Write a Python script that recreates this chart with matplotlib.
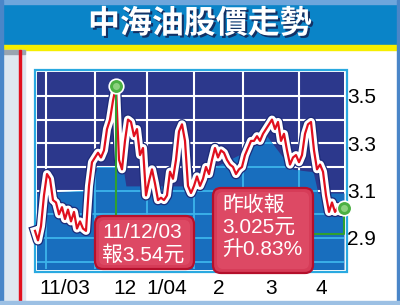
import matplotlib.pyplot as plt
import matplotlib.patheffects as pe
from matplotlib.patches import Rectangle, FancyBboxPatch
from matplotlib.transforms import Affine2D
import numpy as np

plt.rcParams['font.family'] = ['Liberation Sans', 'Noto Sans CJK TC']

# daily closing price, late Oct 2003 .. mid Apr 2004
price = [2.93, 2.89, 2.95, 3.08, 3.17, 3.15, 3.06, 3.05, 3.00, 3.03,
         2.98, 3.02, 2.97, 3.01, 2.94, 2.97, 2.94, 2.93, 3.12, 3.22,
         3.24, 3.26, 3.24, 3.27, 3.36, 3.40, 3.48, 3.54, 3.23, 3.19,
         3.31, 3.40, 3.39, 3.33, 3.36, 3.25, 3.28, 3.08, 3.14, 3.19,
         3.13, 3.06, 3.07, 3.06, 3.08, 3.18, 3.15, 3.23, 3.35, 3.38,
         3.31, 3.12, 3.09, 3.12, 3.16, 3.12, 3.15, 3.20, 3.17, 3.23,
         3.28, 3.24, 3.27, 3.26, 3.23, 3.21, 3.20, 3.17, 3.19, 3.20,
         3.25, 3.28, 3.31, 3.31, 3.33, 3.31, 3.34, 3.36, 3.38, 3.40,
         3.36, 3.39, 3.31, 3.34, 3.27, 3.21, 3.24, 3.25, 3.22, 3.25,
         3.34, 3.38, 3.39, 3.27, 3.19, 3.21, 3.18, 3.08, 3.01, 3.05,
         3.01, 3.03, 3.01, 3.025]

# lighter blue band under the price line
band_idx = [0, 18.3, 20.7, 29.3, 30.3, 55, 58.3, 71, 77.3, 82.7, 86, 92.7, 94.3, 103]
band_val = [3.09, 3.10, 3.20, 3.20, 3.12, 3.12, 3.19, 3.27, 3.33, 3.24, 3.19, 3.18, 3.09, 3.09]

month_edges = [3.7, 20, 37.3, 53, 69.3, 88]
month_pos = [10, 30, 44, 61.3, 78.7, 95.3]
month_labels = ['11/03', '12', '1/04', '2', '3', '4']
y_ticks = [2.9, 3.1, 3.3, 3.5]
grid_levels = [2.8, 2.9, 3.0, 3.1, 3.2, 3.3, 3.4, 3.5]

title = '中海油股價走勢'
peak_text = '11/12/03\n報3.54元'
last_text = '昨收報\n3.025元\n升0.83%'

W, H = 400, 305
fig = plt.figure(figsize=(W / 100, H / 100), dpi=100)
# image pixel coords (origin top-left)
img = Affine2D().scale(1 / 100, -1 / 100).translate(0, H / 100) + fig.dpi_scale_trans

# --- frame / decoration ---
bg = fig.add_axes([0, 0, 1, 1], zorder=0)
bg.set_xlim(0, W)
bg.set_ylim(H, 0)
bg.axis('off')
bg.add_patch(Rectangle((0, 0), W, H, color='white'))
bg.add_patch(Rectangle((0, 0), W, 45, color='#0a84c8'))
bg.add_patch(Rectangle((0, 0), W, 4, color='#6ea6dc'))
bg.add_patch(Rectangle((0, 45), W, 5, color='#f6ee00'))
bg.add_patch(Rectangle((3, 50), 22, 251, color='#dfe7f0'))
bg.add_patch(Rectangle((3, 50), 22, 4, color='#9aa4b0'))
bg.add_patch(Rectangle((19, 50), 2.2, 251, color='#e2101e'))
bg.add_patch(Rectangle((0, 0), 3, H, color='#4a86c8'))
bg.add_patch(Rectangle((W - 3, 0), 3, H, color='#4a86c8'))
bg.add_patch(Rectangle((0, H - 4), W, 4, color='#9cc0e4'))
bg.add_patch(Rectangle((34.5, 69.5), 312, 202, fill=False, ec='#2aa9e0', lw=1.6))
bg.text(200, 24, title, ha='center', va='center', color='white', fontsize=23,
        fontweight='bold', family=['Noto Sans CJK TC'],
        path_effects=[pe.withSimplePatchShadow(offset=(1.5, -1.5),
                                               shadow_rgbFace='#14285a', alpha=0.9)])

# --- chart ---
ax = fig.add_axes([37 / W, 1 - 269 / H, 307 / W, 197 / H], zorder=1)
ax.set_facecolor('#2c388c')
x = np.arange(len(price))
ax.set_xlim(0.67, len(price) - 1)
ax.set_ylim(2.769, 3.601)
for s in ax.spines.values():
    s.set_visible(False)

for lv in grid_levels:
    ax.axhline(lv, color='white', lw=1.5, zorder=1)
for m in month_edges:
    ax.axvline(m, color='white', lw=1.5, zorder=1)

band = ax.fill_between(band_idx, 2.7, band_val, color='#186ebe', lw=0, zorder=2)
clip = (band.get_paths()[0], ax.transData)
for lv in grid_levels:
    ax.axhline(lv, color='#3cb4eb', lw=1.3, zorder=3).set_clip_path(*clip)
for m in month_edges:
    ax.axvline(m, color='#3cb4eb', lw=1.3, zorder=3).set_clip_path(*clip)

ax.plot(x, price, color='#e0101e', lw=1.6, zorder=5, clip_on=False,
        solid_joinstyle='round',
        path_effects=[pe.Stroke(linewidth=7.6, foreground='#1c2a78'),
                      pe.Stroke(linewidth=5.8, foreground='white'),
                      pe.Normal()])


def to_data(px, py):
    return ax.transData.inverted().transform(img.transform((px, py)))


green = '#2fa030'
pk = int(np.argmax(price))
ax.plot([pk, pk], [price[pk], to_data(0, 230)[1]], color=green, lw=1.5,
        zorder=6, clip_on=False)
last = len(price) - 1
cx, cy = to_data(313, 234)
ax.plot([last, last, cx], [price[last], cy, cy], color=green, lw=1.5,
        zorder=6, clip_on=False)

for (bx, by, bw, bh) in [(95, 216, 99, 53), (213, 188, 100, 85)]:
    ax.add_patch(FancyBboxPatch((bx, by), bw, bh, transform=img,
                                boxstyle='round,pad=0,rounding_size=8',
                                fc='#d63c58', ec='#b4102c', lw=1.6,
                                zorder=7, clip_on=False))
    ax.add_patch(FancyBboxPatch((bx + 4, by + 4), bw - 8, bh - 8, transform=img,
                                boxstyle='round,pad=0,rounding_size=6',
                                fc='#e65a74', ec='none', alpha=0.45,
                                zorder=7, clip_on=False))

ax.text(102, 244, peak_text, transform=img, color='white', fontsize=15,
        ha='left', va='center', linespacing=1.15, zorder=8, clip_on=False)
ax.text(222, 227, last_text, transform=img, color='white', fontsize=15,
        ha='left', va='center', linespacing=1.2, zorder=8, clip_on=False)

for i in (pk, last):
    ax.plot(i, price[i], 'o', ms=10.5, mfc='#4cb043', mec='white', mew=1.2,
            zorder=9, clip_on=False)
    ax.plot(i, price[i], 'o', ms=5, mfc='#a8e09a', mec='none', alpha=0.7,
            zorder=9, clip_on=False)

ax.set_xticks(month_pos)
ax.set_xticklabels(month_labels, fontsize=15)
ax.yaxis.tick_right()
ax.set_yticks(y_ticks)
ax.set_yticklabels([f'{v:.1f}' for v in y_ticks], fontsize=15)
ax.tick_params(axis='x', length=0, pad=7)
ax.tick_params(axis='y', length=0, pad=2.5)

fig.savefig('out.png', dpi=100)
